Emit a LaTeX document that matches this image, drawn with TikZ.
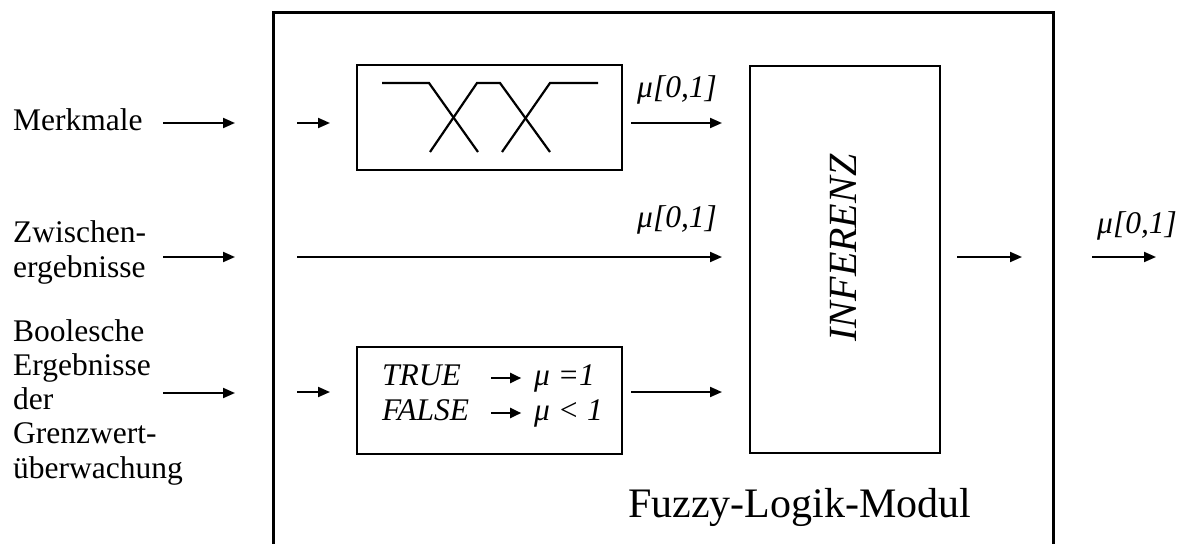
\documentclass[tikz,border=0pt]{standalone}
\usepackage{fontspec}
\setmainfont{Liberation Serif}
\usetikzlibrary{arrows.meta}
\newcommand{\boolarrow}{\tikz[baseline=0pt]\draw[line width=2pt,-{Triangle[length=11pt,width=10pt]}] (0pt,7pt) -- (30pt,7pt);}
\begin{document}
\begin{tikzpicture}[x=1pt,y=-1pt,
  arr/.style={line width=2pt,-{Triangle[length=12pt,width=10pt]}},
  box/.style={draw,line width=2.5pt,inner sep=0pt,outer sep=0pt},
  curve/.style={line width=2.2pt},
  lbl/.style={font=\fontsize{31.5}{34.2}\selectfont,align=left,inner sep=0pt},
  mu/.style={font=\fontsize{31.5}{34}\selectfont\itshape,inner sep=0pt},
]
\useasboundingbox (0,0) rectangle (1190,543);
\fill[white] (0,0) rectangle (1190,543);
% outer module frame (open at the bottom edge of the picture)
\draw[line width=3pt] (273,600) -- (273,13) -- (1053,13) -- (1053,600);
\node[font=\fontsize{42}{46}\selectfont,inner sep=0pt,anchor=base west] (modul) at (628,517) {Fuzzy-Logik-Modul};

% left labels (base anchor = baseline of the last line)
\node[lbl,anchor=base west] (merk) at (13,130) {Merkmale};
\node[lbl,anchor=base west] (zw) at (13,277) {Zwischen-\\ergebnisse};
\node[lbl,anchor=base west] (bool) at (13,478) {Boolesche\\Ergebnisse\\der\\Grenzwert-\\überwachung};

% fuzzifier box
\node[box,minimum width=265pt,minimum height=105pt] (fuzz) at (489.5,117.5) {};
\draw[curve] (382,83) -- (429,83) -- (478,152);
\draw[curve] (430,152) -- (477,83) -- (500,83) -- (550,152);
\draw[curve] (502,152) -- (550,83) -- (598,83);

% boolean box
\node[box,minimum width=265pt,minimum height=107pt] (boolbox) at (489.5,400.5) {};
\node[mu,anchor=base west] (tr) at (382,385) {\makebox[108pt][l]{TRUE}\boolarrow\hspace{12pt}μ =1};
\node[mu,anchor=base west] (fa) at (382,420) {\makebox[108pt][l]{FALSE}\boolarrow\hspace{12pt}μ < 1};

% inference box
\node[box,minimum width=190pt,minimum height=387pt] (inf) at (845,259.5) {};
\node[font=\fontsize{40}{44}\selectfont\itshape,inner sep=0pt,rotate=90] (inftext) at (843,248) {INFERENZ};

% labels mu
\node[mu,anchor=base west] (mu1) at (637,97) {μ[0,1]};
\node[mu,anchor=base west] (mu2) at (637,227) {μ[0,1]};
\node[mu,anchor=base west] (mu3) at (1097,233) {μ[0,1]};

% coordinates for arrow ends
\coordinate (a1s) at (163,123); \coordinate (a1e) at (235,123);
\coordinate (a2s) at (163,257); \coordinate (a2e) at (235,257);
\coordinate (a3s) at (163,393); \coordinate (a3e) at (235,393);
\coordinate (b1s) at (297,123); \coordinate (b1e) at (330,123);
\coordinate (b3s) at (297,392); \coordinate (b3e) at (330,392);
\coordinate (m2s) at (297,257);
\coordinate (c1e) at (722,123);
\coordinate (m2e) at (722,257);
\coordinate (c3e) at (722,392);
\coordinate (o1e) at (1022,257);
\coordinate (o2s) at (1092,257); \coordinate (o2e) at (1156,257);

\draw[arr] (a1s) -- (a1e);
\draw[arr] (a2s) -- (a2e);
\draw[arr] (a3s) -- (a3e);
\draw[arr] (b1s) -- (b1e);
\draw[arr] (b3s) -- (b3e);
\draw[arr] (fuzz.east |- c1e) ++(9,0) -- (c1e);
\draw[arr] (m2s) -- (m2e);
\draw[arr] (boolbox.east |- c3e) ++(9,0) -- (c3e);
\draw[arr] (inf.east |- o1e) ++(17,0) -- (o1e);
\draw[arr] (o2s) -- (o2e);
\end{tikzpicture}
\end{document}
